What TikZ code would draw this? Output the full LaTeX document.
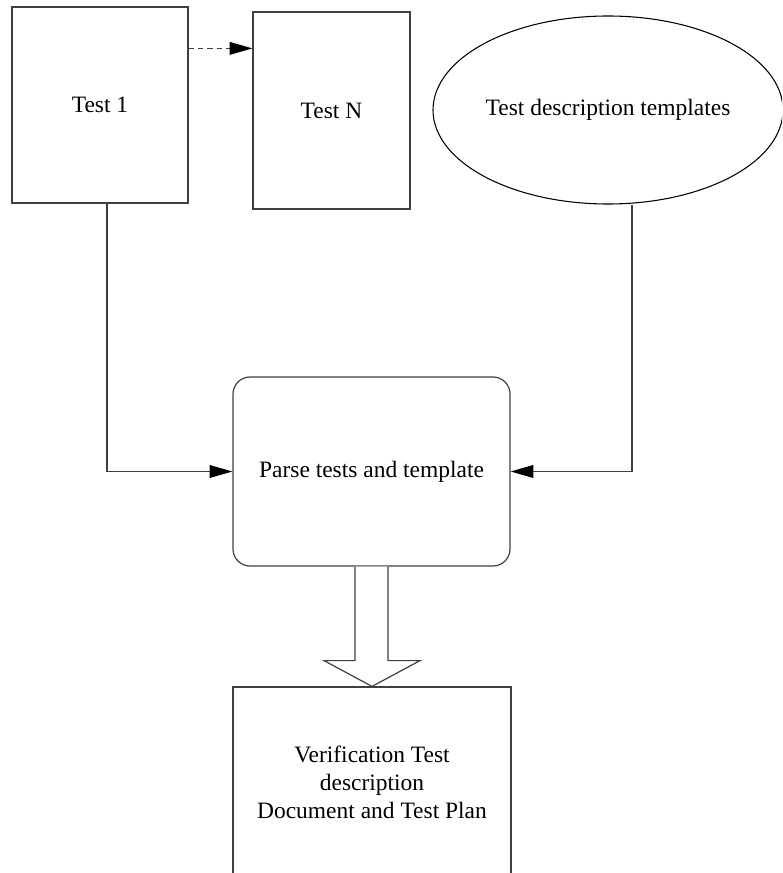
\documentclass[tikz,border=0pt]{standalone}
\usepackage{fontspec}
\setmainfont{Liberation Serif}
\usetikzlibrary{positioning, calc, arrows.meta, shapes.geometric}

\tikzset{
  box/.style={draw=black!75, line width=0.9pt, rectangle, align=center,
    font=\fontsize{17.6}{21}\selectfont},
  roundbox/.style={box, rounded corners=12.75pt},
  oval/.style={draw=black, line width=0.8pt, ellipse, inner sep=0pt,
    font=\fontsize{17.6}{21}\selectfont},
  wire/.style={draw=black!75, line width=0.9pt},
}

\begin{document}
\begin{tikzpicture}[x=0.75pt, y=-0.75pt, >={Triangle[length=17pt, width=9.5pt, color=black]}]

    % --- Page frame (crops ellipse and last box) ---
    \clip (0,0) rectangle (782,873);

    % --- Top row: tests and templates ---
    \node[box, minimum width=132pt, minimum height=147pt] (test1) at (100,105) {Test 1};
    \node[box, minimum width=117.75pt, minimum height=147.75pt] (testn) at (331.5,110.5) {Test N};
    \node[oval, minimum width=262.5pt, minimum height=141pt] (templates) at (608,110) {Test description templates};

    % --- Middle: parser ---
    \node[roundbox, minimum width=207.75pt, minimum height=141.75pt] (parse) at (371.5,471.5) {Parse tests and template};

    % --- Bottom: output document ---
    \node[box, minimum width=208.5pt, minimum height=142.5pt] (doc) at (372,782)
      {Verification Test\\description\\Document and Test Plan};

    % --- Connectors ---
    % dashed link between first and last test
    \coordinate (dash1) at ($(test1.north east)+(0,42)$);
    \draw[wire, dashed, dash pattern=on 4pt off 3pt, ->] (dash1) -- (dash1 -| testn.west);
    % tests and templates feed the parser
    \draw[wire, ->] ($(test1.south)+(7,0)$) |- (parse.west);
    \draw[wire, ->] ($(templates.south)+(24,0)$) |- (parse.east);

    % --- Hollow block arrow into the document ---
    \draw[wire, fill=white]
      ($(parse.south)+(-16.5,0)$) -- ($(parse.south)+(-16.5,94)$)
      -- ($(parse.south)+(-47.5,94)$) -- (doc.north)
      -- ($(parse.south)+(48.5,94)$) -- ($(parse.south)+(16.5,94)$)
      -- ($(parse.south)+(16.5,0)$);

\end{tikzpicture}
\end{document}
